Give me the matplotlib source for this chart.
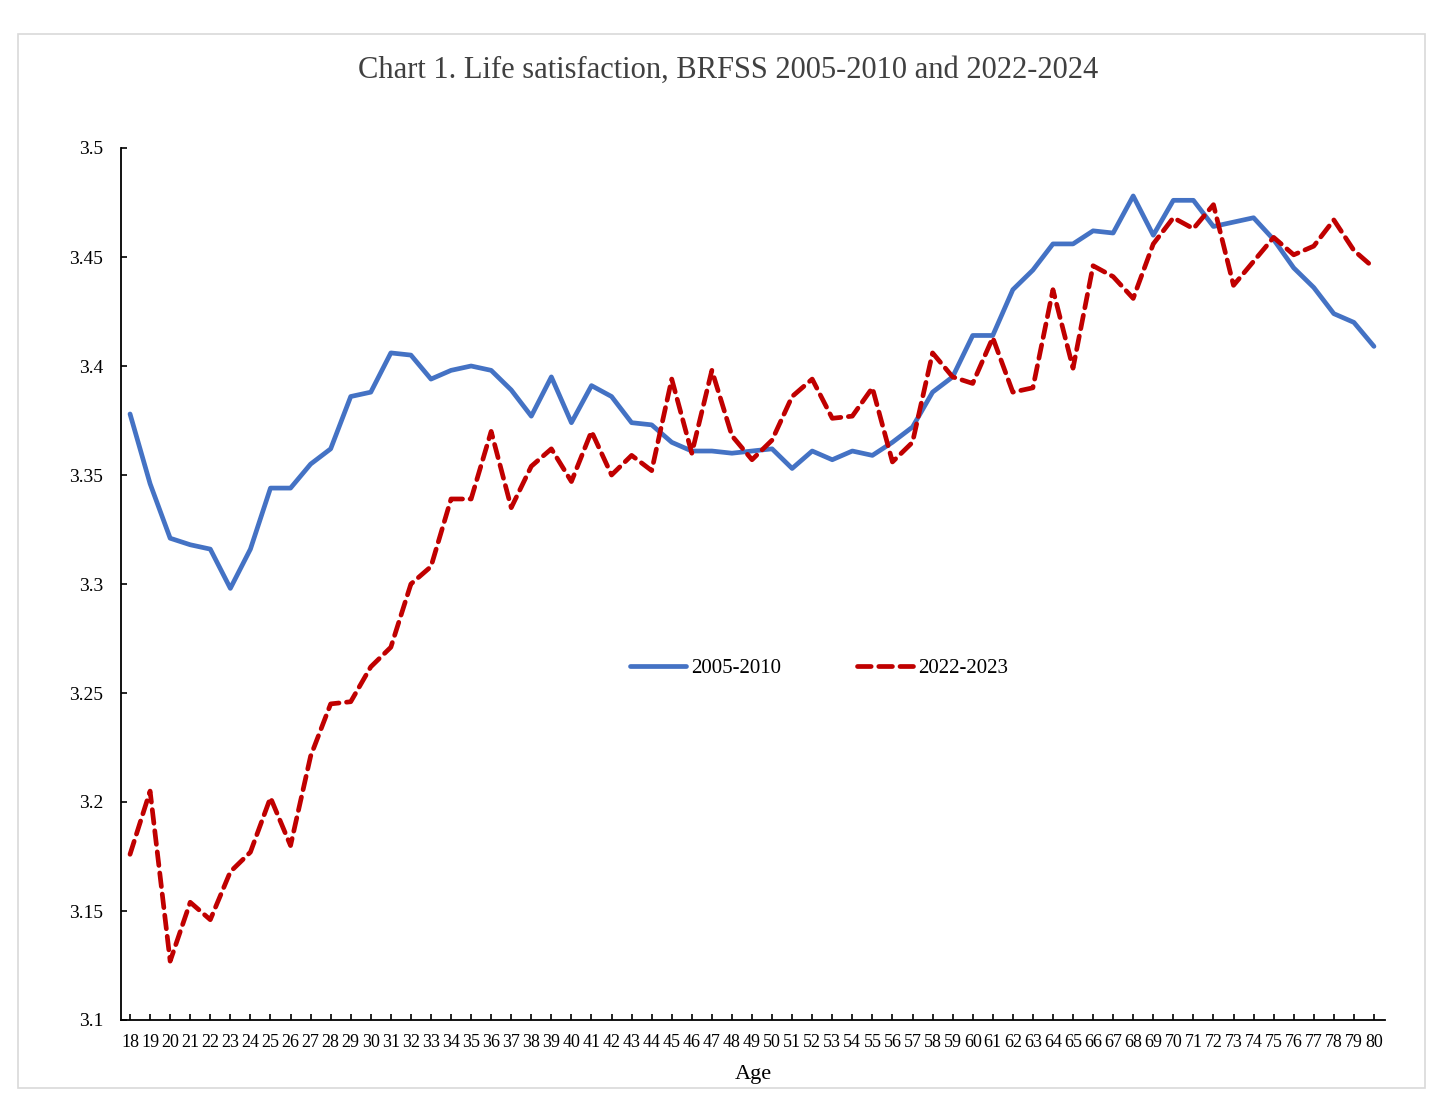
import matplotlib
matplotlib.use("Agg")
import matplotlib.pyplot as plt
from matplotlib.patches import Rectangle

ages = list(range(18, 81))
s2005 = [3.378, 3.346, 3.321, 3.318, 3.316, 3.298, 3.316, 3.344, 3.344, 3.355,
         3.362, 3.386, 3.388, 3.406, 3.405, 3.394, 3.398, 3.400, 3.398, 3.389,
         3.377, 3.395, 3.374, 3.391, 3.386, 3.374, 3.373, 3.365, 3.361, 3.361,
         3.360, 3.361, 3.362, 3.353, 3.361, 3.357, 3.361, 3.359, 3.365, 3.372,
         3.388, 3.395, 3.414, 3.414, 3.435, 3.444, 3.456, 3.456, 3.462, 3.461,
         3.478, 3.460, 3.476, 3.476, 3.464, 3.466, 3.468, 3.458, 3.445, 3.436,
         3.424, 3.420, 3.409]
s2022 = [3.176, 3.205, 3.127, 3.154, 3.146, 3.168, 3.177, 3.202, 3.180, 3.221,
         3.245, 3.246, 3.262, 3.271, 3.300, 3.308, 3.339, 3.339, 3.370, 3.335,
         3.354, 3.362, 3.347, 3.370, 3.350, 3.359, 3.352, 3.394, 3.360, 3.398,
         3.368, 3.357, 3.366, 3.386, 3.394, 3.376, 3.377, 3.390, 3.356, 3.365,
         3.406, 3.395, 3.392, 3.413, 3.388, 3.390, 3.435, 3.399, 3.446, 3.441,
         3.431, 3.456, 3.468, 3.463, 3.474, 3.437, 3.448, 3.459, 3.451, 3.455,
         3.467, 3.453, 3.445]
yticks = [3.1, 3.15, 3.2, 3.25, 3.3, 3.35, 3.4, 3.45, 3.5]
ytick_labels = ["3.1", "3.15", "3.2", "3.25", "3.3", "3.35", "3.4", "3.45", "3.5"]
title = "Chart 1. Life satisfaction, BRFSS 2005-2010 and 2022-2024"

plt.rcParams['font.family'] = ['Liberation Serif', 'DejaVu Serif']

fig = plt.figure(figsize=(14.56, 11.04), dpi=100)
fig.patches.append(Rectangle((18/1456, 1-1088/1104), (1425-18)/1456, (1088-34)/1104,
                             transform=fig.transFigure, fill=False,
                             edgecolor='#d9d9d9', linewidth=1.2))
ax = fig.add_axes([121/1456, 1-1020/1104, (1385-121)/1456, (1020-148)/1104])

ax.plot(ages, s2005, color='#4472C4', linewidth=3.4, label='2005-2010',
        solid_joinstyle='round', solid_capstyle='round')
ax.plot(ages, s2022, color='#C00000', linewidth=3.4, label='2022-2023',
        linestyle=(0, (2.9, 1.6)), dash_capstyle='round', dash_joinstyle='round')

ax.set_xlim(17.55, 80.55)
ax.set_ylim(3.1, 3.5)
ax.set_xticks(ages)
ax.set_xticklabels([str(a) for a in ages], fontsize=13)
ax.set_yticks(yticks)
ax.set_yticklabels(ytick_labels, fontsize=14)
for s in ['top', 'right']:
    ax.spines[s].set_visible(False)
ax.spines['left'].set_linewidth(1.3)
ax.spines['bottom'].set_linewidth(1.3)
ax.tick_params(axis='both', direction='in', length=4, width=1.2, color='black')
ax.tick_params(axis='y', pad=13)
ax.tick_params(axis='x', pad=10)

ax.set_xlabel('Age', fontsize=16, labelpad=10)
fig.text(0.5, 1-70/1104, title, ha='center', va='center', fontsize=22, color='#404040')

leg = ax.legend(loc='center', bbox_to_anchor=((819-121)/1264, (1020-668)/872), ncol=2,
                frameon=False, fontsize=15, handlelength=2.7, columnspacing=3.6,
                handletextpad=0.25)

fig.savefig('out.png', dpi=100)
